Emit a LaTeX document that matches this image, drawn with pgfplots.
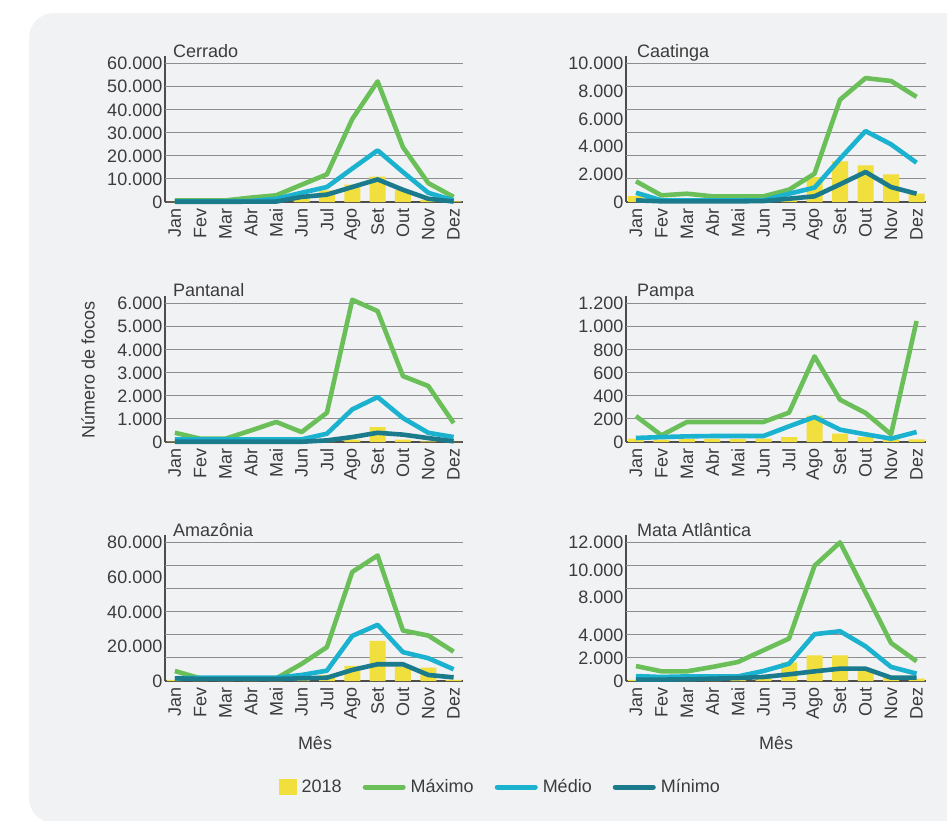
\documentclass[border=0pt]{standalone}
\usepackage{pgfplots}
\usepackage{pgfplotstable}
\pgfplotsset{compat=1.18}
\usepackage{fontspec}
\setmainfont{Liberation Sans}
\definecolor{bgcol}{HTML}{F1F2F4}
\definecolor{barcol}{HTML}{F0DF3C}
\definecolor{maxcol}{HTML}{6ABF59}
\definecolor{medcol}{HTML}{1BB2D0}
\definecolor{mincol}{HTML}{1B7B8C}
\definecolor{gridcol}{HTML}{8E8E8E}
\definecolor{axiscol}{HTML}{4D4D4D}
\definecolor{textcol}{HTML}{3C3C3C}
\newcommand\chartfont{\fontsize{18}{21}\selectfont}

% columns: m y18 max med min
\pgfplotstableread{
m y18 max med min
0 100 700 300 100
1 100 700 300 100
2 100 700 300 100
3 200 1900 400 150
4 500 2900 1400 200
5 1600 7500 4000 2200
6 5000 12000 6500 3200
7 7500 36000 14500 6500
8 11000 52300 22400 9800
9 5200 23800 13000 5300
10 800 8200 4000 1400
11 300 2200 700 200
}\cerrado
\pgfplotstableread{
m y18 max med min
0 430 1500 670 120
1 100 480 120 50
2 100 600 120 50
3 100 410 120 50
4 100 410 120 50
5 100 410 120 70
6 360 890 600 240
7 1800 2050 1040 410
8 2940 7400 3130 1280
9 2650 8960 5130 2170
10 2000 8750 4170 1080
11 600 7600 2840 600
}\caatinga
\pgfplotstableread{
m y18 max med min
0 20 400 115 10
1 10 145 115 10
2 10 145 115 10
3 10 500 115 10
4 10 870 115 10
5 10 430 115 10
6 30 1270 360 70
7 100 6170 1415 215
8 650 5680 1950 400
9 100 2860 1040 320
10 30 2430 400 170
11 10 820 215 30
}\pantanal
\pgfplotstableread{
m y18 max med
0 30 225 35
1 20 58 43
2 25 174 49
3 25 174 52
4 25 174 52
5 30 174 52
6 43 255 136
7 230 743 217
8 72 367 107
9 43 252 67
10 23 67 29
11 23 1050 87
}\pampa
\pgfplotstableread{
m y18 max med min
0 600 5800 1550 1550
1 300 1550 1900 1200
2 300 1550 1900 1200
3 300 1550 1900 1200
4 300 1550 1900 1200
5 1500 9900 3500 1550
6 3500 19600 6000 1900
7 8700 63100 26100 6400
8 23200 72600 32500 9700
9 8300 29200 16700 9700
10 7700 26300 13200 3500
11 600 17000 6800 2100
}\amazonia
\pgfplotstableread{
m y18 max med min
0 90 1300 430 120
1 150 840 350 120
2 150 840 400 150
3 200 1220 400 200
4 300 1650 400 260
5 300 2670 870 350
6 1620 3680 1500 580
7 2230 10000 4060 840
8 2230 12030 4320 1070
9 1070 7680 3010 1070
10 300 3300 1220 290
11 200 1710 640 290
}\mata

\pgfplotsset{
  panel/.style={
    scale only axis, height=146pt,
    xmin=-0.39, xmax=11.37, ymin=0,
    axis x line=bottom, axis y line=left,
    axis line style={-, draw=axiscol, line width=1.3pt},
    xtick={0,...,11},
    xticklabels={Jan,Fev,Mar,Abr,Mai,Jun,Jul,Ago,Set,Out,Nov,Dez},
    scaled y ticks=false,
    major tick length=0pt,
    tick label style={font=\chartfont, text=textcol},
    xticklabel style={rotate=90, anchor=east, inner sep=6pt},
    yticklabel style={anchor=east, inner sep=2.5pt},
    extra y tick labels={},
    extra y tick style={grid=major},
    major grid style={draw=gridcol, line width=1pt},
    clip=false,
    /pgf/number format/assume math mode=true,
  },
  barp/.style={ybar, bar width=16pt, fill=barcol, draw=none,
    legend image code/.code={\fill[barcol] (0pt,-8pt) rectangle (18pt,8pt);}},
  linep/.style={#1, line width=4.6pt, line join=round,
    legend image code/.code={\draw[##1, line width=5pt, line cap=round] (0pt,0pt) -- (38pt,0pt);}},
}

\begin{document}
\begin{tikzpicture}
\path[use as bounding box] (0pt,0pt) rectangle (947pt,-820pt);
\fill[bgcol, rounded corners=25pt] (29pt,-13pt) rectangle (990pt,-823pt);

% Cerrado
\begin{axis}[panel, width=298pt, at={(165pt,-202pt)}, anchor=south west,
  ymax=63340, ytick={0,10000,...,60000},
  yticklabels={0,10.000,20.000,30.000,40.000,50.000,60.000},
  extra y ticks={10000,20000,...,60000}]
\addplot[barp] table[x=m,y=y18]{\cerrado};
\addplot[linep=maxcol] table[x=m,y=max]{\cerrado};
\addplot[linep=medcol] table[x=m,y=med]{\cerrado};
\addplot[linep=mincol] table[x=m,y=min]{\cerrado};
\end{axis}

% Caatinga
\begin{axis}[panel, width=300pt, at={(626pt,-202pt)}, anchor=south west,
  ymax=10557, ytick={0,2000,...,10000},
  yticklabels={0,2.000,4.000,6.000,8.000,10.000},
  extra y ticks={1666.67,3333.33,5000,6666.67,8333.33,10000}]
\addplot[barp] table[x=m,y=y18]{\caatinga};
\addplot[linep=maxcol] table[x=m,y=max]{\caatinga};
\addplot[linep=medcol] table[x=m,y=med]{\caatinga};
\addplot[linep=mincol] table[x=m,y=min]{\caatinga};
\end{axis}

% Pantanal
\begin{axis}[panel, width=298pt, at={(165pt,-442pt)}, anchor=south west,
  ymax=6334, ytick={0,1000,...,6000},
  yticklabels={0,1.000,2.000,3.000,4.000,5.000,6.000},
  extra y ticks={1000,2000,...,6000}]
\addplot[barp] table[x=m,y=y18]{\pantanal};
\addplot[linep=maxcol] table[x=m,y=max]{\pantanal};
\addplot[linep=medcol] table[x=m,y=med]{\pantanal};
\addplot[linep=mincol] table[x=m,y=min]{\pantanal};
\end{axis}

% Pampa
\begin{axis}[panel, width=300pt, at={(626pt,-442pt)}, anchor=south west,
  ymax=1267, ytick={0,200,...,1200},
  yticklabels={0,200,400,600,800,1.000,1.200},
  extra y ticks={200,400,...,1200}]
\addplot[barp] table[x=m,y=y18]{\pampa};
\addplot[linep=maxcol] table[x=m,y=max]{\pampa};
\addplot[linep=medcol] table[x=m,y=med]{\pampa};
\end{axis}

% Amazonia
\begin{axis}[panel, width=298pt, at={(165pt,-681pt)}, anchor=south west,
  ymax=84460, ytick={0,20000,...,80000},
  yticklabels={0,20.000,40.000,60.000,80.000},
  extra y ticks={13333.3,26666.7,40000,53333.3,66666.7,80000},
  legend columns=4,
  legend style={at={(axis description cs:1.13,-0.726)}, anchor=center,
    draw=none, fill=none, font=\chartfont, text=textcol,
    /tikz/every even column/.append style={column sep=16pt},
    nodes={inner xsep=5pt, inner ysep=2pt}},
  ]
\addplot[barp] table[x=m,y=y18]{\amazonia};
\addlegendentry{2018}
\addplot[linep=maxcol] table[x=m,y=max]{\amazonia};
\addlegendentry{Máximo}
\addplot[linep=medcol] table[x=m,y=med]{\amazonia};
\addlegendentry{Médio}
\addplot[linep=mincol] table[x=m,y=min]{\amazonia};
\addlegendentry{Mínimo}
\end{axis}

% Mata Atlantica
\begin{axis}[panel, width=300pt, at={(626pt,-681pt)}, anchor=south west,
  ymax=12669, ytick={0,2000,4000,7300,9650,12000},
  yticklabels={0,2.000,4.000,8.000,10.000,12.000},
  extra y ticks={2000,4000,...,12000}]
\addplot[barp] table[x=m,y=y18]{\mata};
\addplot[linep=maxcol] table[x=m,y=max]{\mata};
\addplot[linep=medcol] table[x=m,y=med]{\mata};
\addplot[linep=mincol] table[x=m,y=min]{\mata};
\end{axis}

\begin{scope}[every node/.style={font=\chartfont, text=textcol, inner sep=0pt}]
\node[anchor=base west] at (173pt,-57pt) {Cerrado};
\node[anchor=base west] at (637pt,-57pt) {Caatinga};
\node[anchor=base west] at (173pt,-296pt) {Pantanal};
\node[anchor=base west] at (637pt,-296pt) {Pampa};
\node[anchor=base west] at (173pt,-536pt) {Amazônia};
\node[anchor=base west] at (637pt,-536pt) {Mata Atlântica};
\node[rotate=90] at (88pt,-370pt) {Número de focos};
\node at (315pt,-743pt) {Mês};
\node at (776pt,-743pt) {Mês};
\end{scope}
\end{tikzpicture}
\end{document}
